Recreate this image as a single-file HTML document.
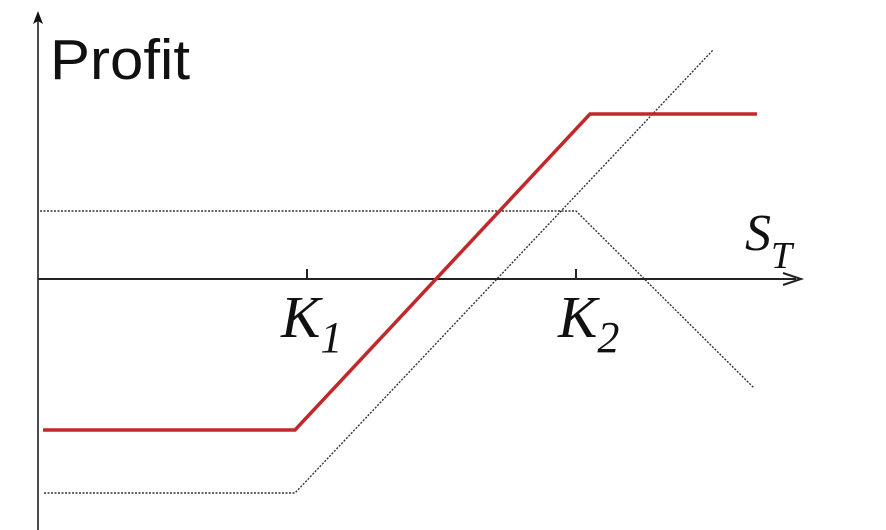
<!DOCTYPE html>
<html><head><meta charset="utf-8"><style>
html,body{margin:0;padding:0;background:#fff;}
svg{display:block;}
</style></head><body>
<svg width="886" height="530" viewBox="0 0 886 530" xmlns="http://www.w3.org/2000/svg">
<line x1="38" y1="14" x2="38" y2="530" stroke="#111" stroke-width="1.5"/>
<path d="M33,24 L38,11 L43,24 L38,21 Z" fill="#111"/>
<line x1="38" y1="279" x2="796" y2="279" stroke="#222" stroke-width="2"/>
<path d="M783,273 L801,279 L783,285" fill="none" stroke="#222" stroke-width="2"/>
<line x1="307" y1="269" x2="307" y2="279" stroke="#222" stroke-width="2"/>
<line x1="576" y1="269" x2="576" y2="279" stroke="#222" stroke-width="2"/>
<polyline points="44,493 295,493 713,50" fill="none" stroke="#333" stroke-width="1.4" stroke-dasharray="2,1.5"/>
<polyline points="40,211 576,211 754,388" fill="none" stroke="#333" stroke-width="1.4" stroke-dasharray="2,1.5"/>
<polyline points="43,430 295,430 590,114 757,114" fill="none" stroke="#c0282a" stroke-width="3.5"/>
<text x="50" y="79" font-family="Liberation Sans, sans-serif" font-size="57" fill="#111" textLength="140" lengthAdjust="spacingAndGlyphs">Profit</text>
<text x="281" y="337" font-family="Liberation Serif, serif" font-style="italic" font-size="59" fill="#111">K<tspan font-size="44" dy="15">1</tspan></text>
<text x="558" y="337" font-family="Liberation Serif, serif" font-style="italic" font-size="59" fill="#111">K<tspan font-size="44" dy="15">2</tspan></text>
<text x="745" y="250" font-family="Liberation Serif, serif" font-style="italic" font-size="52" fill="#111">S<tspan font-size="38" dy="18">T</tspan></text>
</svg>
</body></html>
